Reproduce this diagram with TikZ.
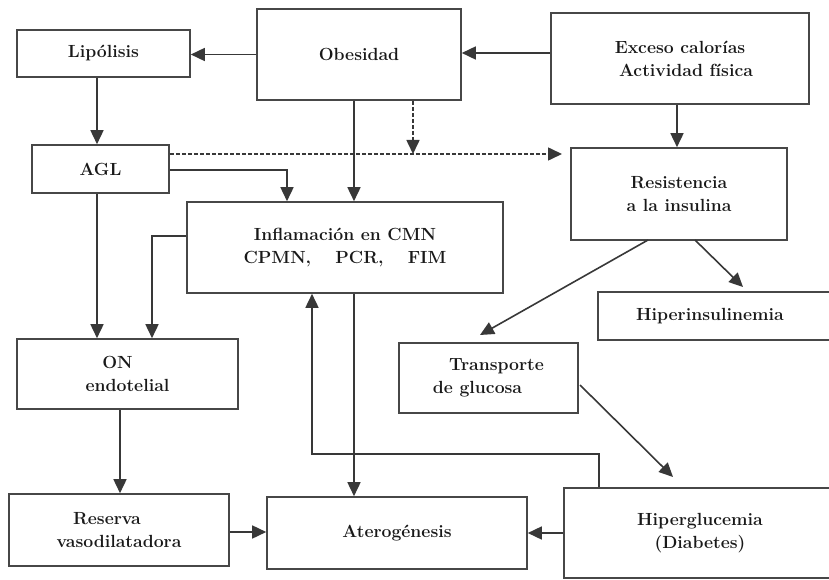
\documentclass[tikz,border=0pt]{standalone}
\usepackage{fontspec}
\usetikzlibrary{arrows.meta}
\begin{document}
\begin{tikzpicture}[x=1pt,y=-1pt,
  box/.style={draw=black!72, line width=1.6pt, align=center, inner sep=0pt,
    text=black!90, font=\bfseries\fontsize{17.6}{23}\selectfont},
  conn/.style={draw=black!78, line width=1.6pt, -{Triangle[length=14pt,width=13pt]}},
  dconn/.style={conn, dash pattern=on 4pt off 2pt}]
\useasboundingbox (0,0) rectangle (829,580);
\clip (0,0) rectangle (829,580);
% boxes
\node[box, minimum width=173pt, minimum height=47pt] (lip) at (103.5,53.5) {Lipólisis};
\node[box, minimum width=204pt, minimum height=91pt] (obe) at (359,54.5) {Obesidad};
\node[box, minimum width=258pt, minimum height=91pt] (exc) at (680,58.5) {Exceso calorías\\\hspace*{12pt}Actividad física};
\node[box, minimum width=137pt, minimum height=48pt] (agl) at (100.5,169) {AGL};
\node[box, minimum width=216pt, minimum height=92pt] (res) at (679,194) {Resistencia\\a la insulina};
\node[box, minimum width=316pt, minimum height=91pt] (inf) at (345,247.5) {Inflamación en CMN\\CPMN,\quad\ PCR,\quad\ FIM};
\node[box, minimum width=250pt, minimum height=48pt] (hins) at (723,316) {\hspace*{-26pt}Hiperinsulinemia};
\node[box, minimum width=179pt, minimum height=70pt] (tra) at (488.5,378) {\hspace*{16pt}Transporte\\de glucosa\hspace*{22pt}};
\node[box, minimum width=221pt, minimum height=70pt] (on) at (127.5,374) {ON\hspace*{20pt}\\endotelial};
\node[box, minimum width=220pt, minimum height=72pt] (rva) at (119,530) {Reserva\hspace*{24pt}\\vasodilatadora};
\node[box, minimum width=260pt, minimum height=72pt] (ate) at (397,533) {Aterogénesis};
\node[box, minimum width=290pt, minimum height=90pt] (hip) at (709,533) {\hspace*{-18pt}Hiperglucemia\\\hspace*{-18pt}(Diabetes)};
% free ends
\coordinate (dtip) at (562,154);
\coordinate (dmid) at (413,154);
\coordinate (r1) at (648,240);
\coordinate (t1) at (480,335);
\coordinate (r2) at (695,240);
\coordinate (h1) at (743,287);
\coordinate (t2) at (580,385);
\coordinate (g1) at (673,477);
% connectors
\draw[conn] (obe.west) -- (lip.east |- obe.west);
\draw[conn] (exc.west |- 0,53) -- (obe.east |- 0,53);
\draw[conn] (lip.south -| 97,0) -- (agl.north -| 97,0);
\draw[dconn] (obe.south -| dmid) -- (dmid);
\draw[dconn] (agl.east |- dtip) -- (dtip);
\draw[conn] (exc.south -| 677,0) -- (res.north -| 677,0);
\draw[conn] (agl.east |- 0,170) -| (inf.north -| 287,0);
\draw[conn] (obe.south -| 354,0) -- (inf.north -| 354,0);
\draw[conn] (inf.west |- 0,236) -| (on.north -| 152,0);
\draw[conn] (agl.south -| 97,0) -- (on.north -| 97,0);
\draw[conn] (on.south -| 120,0) -- (rva.north -| 120,0);
\draw[conn] (rva.east |- 0,532) -- (ate.west |- 0,532);
\draw[conn] (inf.south -| 354,0) -- (ate.north -| 354,0);
\draw[conn] (hip.west |- 0,533) -- (ate.east |- 0,533);
\draw[conn] (hip.north -| 599,0) -- (599,454) -| (inf.south -| 312,0);
\draw[conn] (r1) -- (t1);
\draw[conn] (r2) -- (h1);
\draw[conn] (t2) -- (g1);
\end{tikzpicture}
\end{document}
